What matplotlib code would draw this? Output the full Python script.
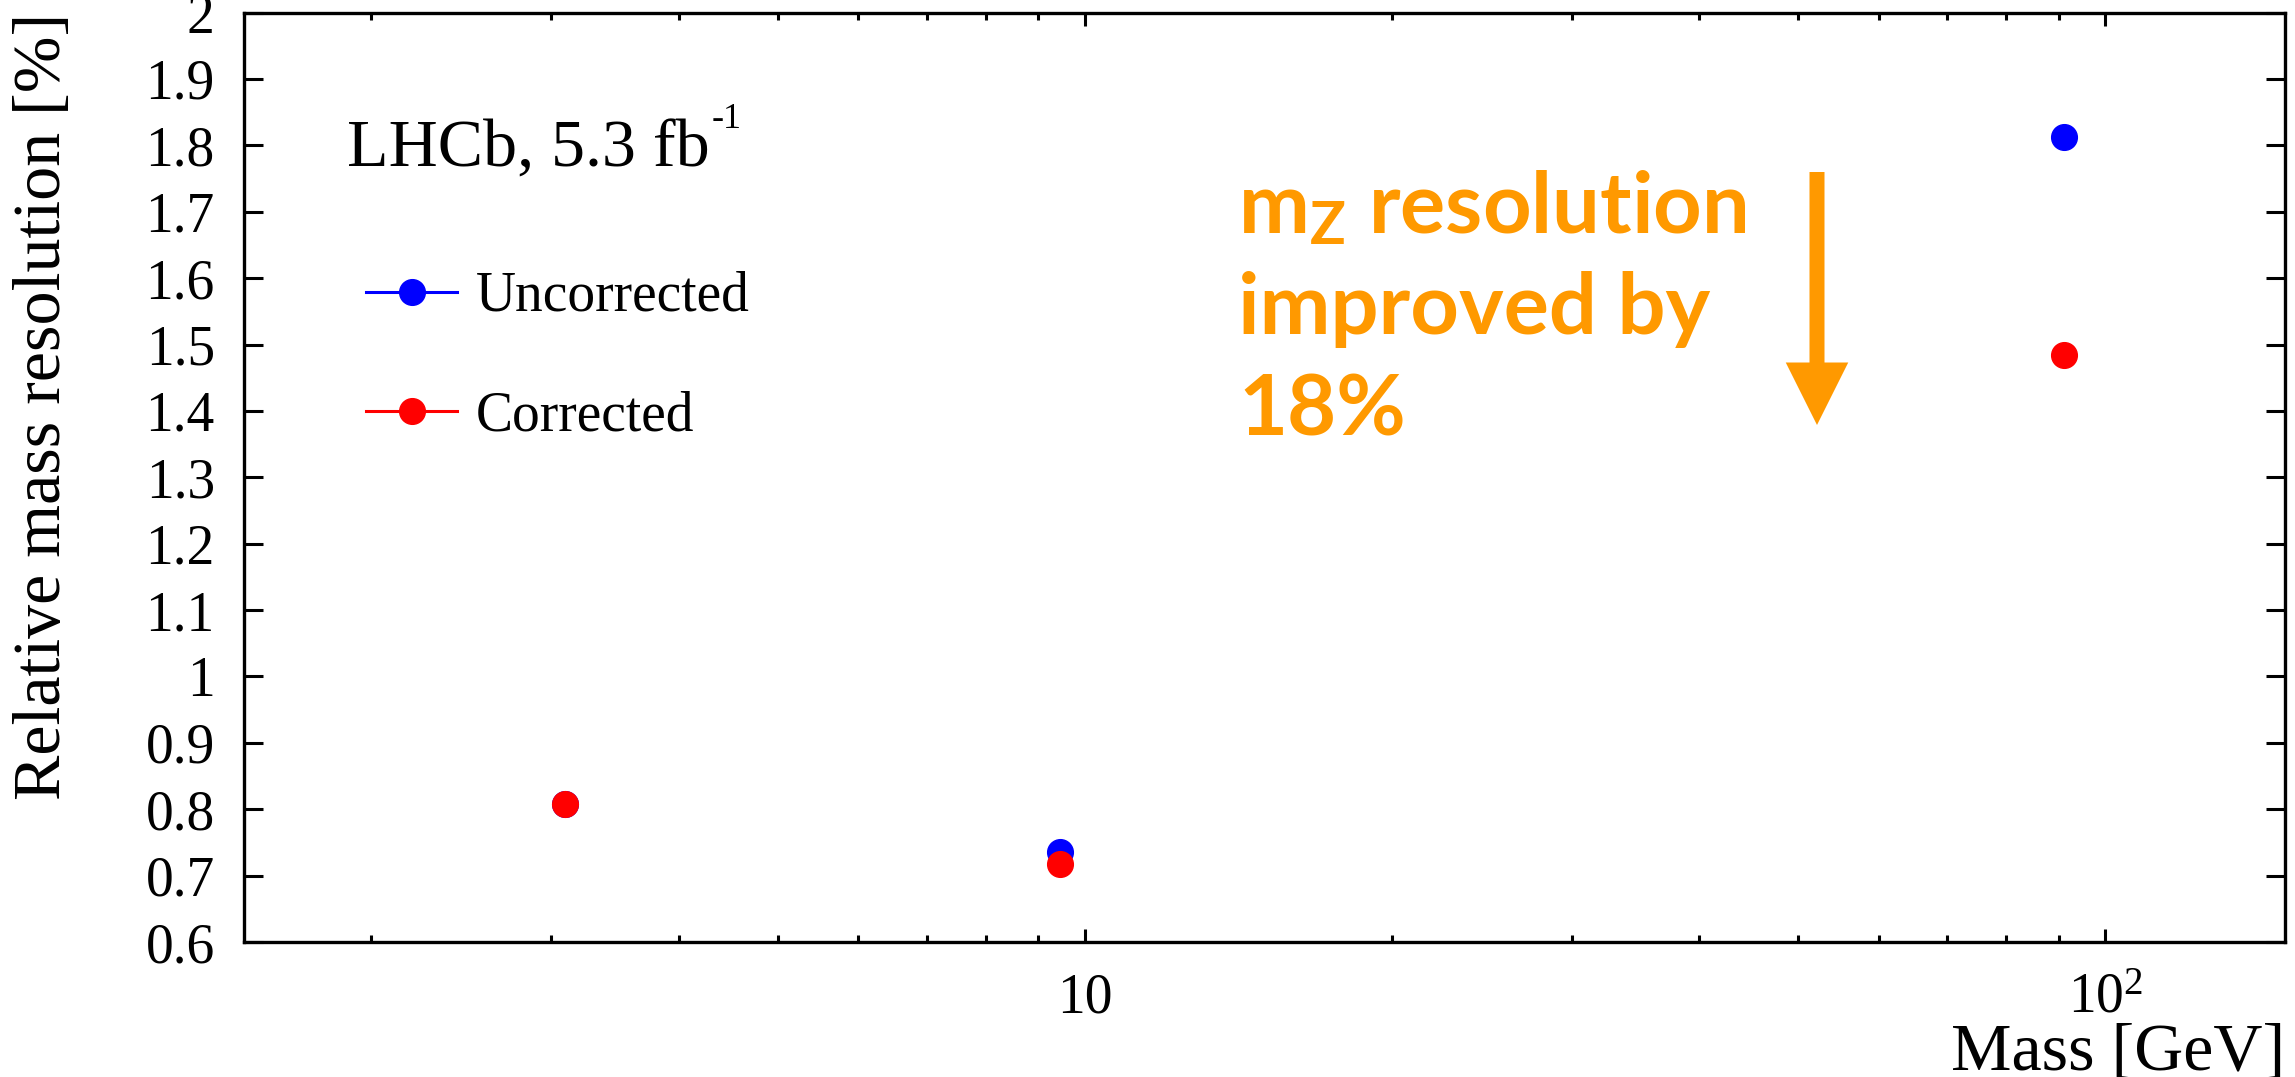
import matplotlib
matplotlib.use("Agg")
import matplotlib.pyplot as plt
from matplotlib.lines import Line2D
from matplotlib.ticker import FixedLocator, LogLocator, NullFormatter, NullLocator
import numpy as np

# resonance masses [GeV]: J/psi, Upsilon(1S), Z
masses = [3.097, 9.46, 91.19]
uncorrected = [0.808, 0.736, 1.813]
corrected = [0.808, 0.718, 1.484]

series_names = ["Uncorrected", "Corrected"]
y_ticks = [0.6, 0.7, 0.8, 0.9, 1.0, 1.1, 1.2, 1.3, 1.4, 1.5, 1.6, 1.7, 1.8, 1.9, 2.0]
x_ticks = [10, 100]
x_ticklabels = ["10", "$10^{2}$"]

BLUE = "#0000ff"
RED = "#ff0000"
ORANGE = "#ff9900"

plt.rcParams.update({
    "font.family": ["Liberation Serif", "DejaVu Serif"],
    "mathtext.fontset": "custom",
    "mathtext.rm": "Liberation Serif",
    "mathtext.it": "Liberation Serif:italic",
    "mathtext.bf": "Liberation Serif:bold",
    "mathtext.sf": "Lato:bold",
    "axes.linewidth": 2.4,
})

fig = plt.figure(figsize=(22.95, 10.77), dpi=100)
ax = fig.add_axes([0.1063, 0.1253, 0.8893, 0.863])

ax.plot(masses, uncorrected, ls="none", marker="o", ms=18.5, color=BLUE, mec=BLUE)
ax.plot(masses, corrected, ls="none", marker="o", ms=18.5, color=RED, mec=RED)

ax.set_xscale("log")
ax.set_xlim(1.5, 150)
ax.set_ylim(0.6, 2.0)

ax.xaxis.set_major_locator(FixedLocator(x_ticks))
ax.set_xticklabels(x_ticklabels)
ax.xaxis.set_minor_locator(LogLocator(base=10, subs=np.arange(2, 10)))
ax.xaxis.set_minor_formatter(NullFormatter())
ax.set_yticks(y_ticks)
ax.set_yticklabels([f"{v:g}" for v in y_ticks])
ax.yaxis.set_minor_locator(NullLocator())

ax.tick_params(axis="both", which="both", direction="in", top=True, right=True,
               labelsize=40, width=2.2)
ax.tick_params(axis="y", which="major", length=13.7, pad=21)
ax.tick_params(axis="x", which="major", length=9.1, pad=22)
ax.tick_params(axis="x", which="minor", length=4.8)

ax.set_xlabel("Mass [GeV]", fontsize=49, loc="right")
ax.xaxis.set_label_coords(1.0, -0.087)
ax.set_ylabel("Relative mass resolution [%]", fontsize=49, loc="top")
ax.yaxis.set_label_coords(-0.0835, 1.0)

lumi = ax.text(0.0505, 0.834, "LHCb, 5.3 fb", transform=ax.transAxes,
               fontsize=49, va="baseline", ha="left")
ax.annotate("-1", xy=(1, 1), xycoords=lumi, xytext=(1, 12),
            textcoords="offset points", fontsize=26, va="top", ha="left")

handles = [Line2D([], [], color=c, lw=2.2, marker="o", ms=18.5, mec=c)
           for c in (BLUE, RED)]
ax.legend(handles, series_names, loc="upper left", bbox_to_anchor=(0.0598, 0.722),
          frameon=False, fontsize=40, borderpad=0, borderaxespad=0,
          handlelength=1.64, handletextpad=0.34, labelspacing=1.22)

# annotation on the Z improvement
lines = ["m$_{\\mathsf{Z}}$ resolution", "improved by", "18%"]
baselines = [233, 334, 436]
for txt, yb in zip(lines, baselines):
    fig.text(1238 / 2295, 1 - yb / 1077, txt, fontsize=61, color=ORANGE,
             family="Lato", weight="bold", va="baseline", ha="left")

ax.annotate("", xy=(1817, 1077 - 425), xycoords="figure pixels",
            xytext=(1817, 1077 - 172), textcoords="figure pixels",
            arrowprops=dict(arrowstyle="simple,head_length=45,head_width=45,tail_width=10.8",
                            mutation_scale=1, color=ORANGE, lw=0,
                            shrinkA=0, shrinkB=0))

fig.savefig("out.png", dpi=100)
